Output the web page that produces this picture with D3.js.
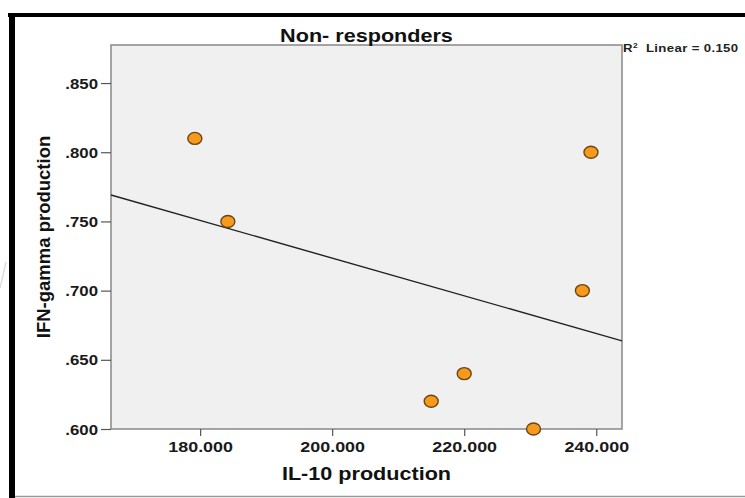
<!DOCTYPE html>
<html>
<head>
<meta charset="utf-8">
<script src="https://cdn.jsdelivr.net/npm/d3@7"></script>
<style>
  body { margin: 0; background: #fff; }
  svg { display: block; font-family: "Liberation Sans", Arial, sans-serif; }
</style>
</head>
<body>
<script>
// IL-10 vs IFN-gamma, non-responders
var il10 = [179.2, 184.2, 215.0, 220.0, 230.5, 237.9, 239.2];
var ifnGamma = [0.810, 0.750, 0.620, 0.640, 0.600, 0.700, 0.800];
var xTicks = [180, 200, 220, 240];
var yTicks = [0.600, 0.650, 0.700, 0.750, 0.800, 0.850];

var w = 745, h = 498;
var margin = {left: 111, right: 123, top: 45, bottom: 69};
var sx = 1.2; // text in the picture is a bit wider than the font

var svg = d3.select('body')
  .append('svg')
  .attr('width', w)
  .attr('height', h);

// outer frame
svg.append('rect').attr('x', 8).attr('y', 13).attr('width', w - 8).attr('height', 4).attr('fill', '#000');
svg.append('rect').attr('x', 9).attr('y', 13).attr('width', 6).attr('height', h - 13).attr('fill', '#000');
svg.append('line')
  .attr('x1', 15).attr('x2', w).attr('y1', 496.5).attr('y2', 496.5)
  .attr('stroke', '#999').attr('stroke-width', 1.5);
svg.append('line') // faint stroke left of the frame
  .attr('x1', 0).attr('y1', 288).attr('x2', 6).attr('y2', 262)
  .attr('stroke', '#ddd').attr('stroke-width', 1.5);

var xScale = d3.scaleLinear()
  .domain([166.5, 243.9])
  .range([margin.left, w - margin.right]);

var yScale = d3.scaleLinear()
  .domain([0.600, 0.8775])
  .range([h - margin.bottom, margin.top]);

// plot background
svg.append('rect')
  .attr('x', margin.left)
  .attr('y', margin.top)
  .attr('width', w - margin.right - margin.left)
  .attr('height', h - margin.bottom - margin.top)
  .attr('fill', '#f0f0f0')
  .attr('stroke', '#888')
  .attr('stroke-width', 1.5);

// axes
var xAxis = d3.axisBottom(xScale)
  .tickValues(xTicks)
  .tickSize(7)
  .tickFormat(d3.format('.3f'));

var gx = svg.append('g')
  .attr('transform', `translate(0, ${h - margin.bottom})`)
  .call(xAxis);
gx.select('.domain').remove();
gx.selectAll('.tick line').attr('stroke', '#555').attr('stroke-width', 1.2);
gx.selectAll('.tick text')
  .attr('y', null).attr('dy', null)
  .attr('transform', `translate(0, 23) scale(1.28, 1)`)
  .style('font-size', '14px')
  .style('font-weight', 'bold')
  .attr('fill', '#1a1a1a');

var yAxis = d3.axisLeft(yScale)
  .tickValues(yTicks)
  .tickSize(10)
  .tickFormat(d => d3.format('.3f')(d).replace(/^0/, ''));

var gy = svg.append('g')
  .attr('transform', `translate(${margin.left}, 0)`)
  .call(yAxis);
gy.select('.domain').remove();
gy.selectAll('.tick line').attr('stroke', '#555').attr('stroke-width', 1.2);
gy.selectAll('.tick text')
  .attr('x', null).attr('dy', null)
  .attr('transform', `translate(-13, 5) scale(${sx}, 1)`)
  .style('font-size', '14px')
  .style('font-weight', 'bold')
  .attr('fill', '#1a1a1a');

// linear fit
var mx = d3.mean(il10), my = d3.mean(ifnGamma);
var sxy = d3.sum(il10, (x, i) => (x - mx) * (ifnGamma[i] - my));
var sxx = d3.sum(il10, x => (x - mx) * (x - mx));
var syy = d3.sum(ifnGamma, y => (y - my) * (y - my));
var slope = sxy / sxx;
var icpt = my - slope * mx;
var r2 = (sxy * sxy) / (sxx * syy);

var xd = xScale.domain();
svg.append('line')
  .attr('x1', xScale(xd[0])).attr('y1', yScale(icpt + slope * xd[0]))
  .attr('x2', xScale(xd[1])).attr('y2', yScale(icpt + slope * xd[1]))
  .attr('stroke', '#222')
  .attr('stroke-width', 1.4);

// points
svg.selectAll('ellipse')
  .data(il10)
  .enter()
  .append('ellipse')
    .attr('cx', d => xScale(d))
    .attr('cy', (d, i) => yScale(ifnGamma[i]))
    .attr('rx', 7)
    .attr('ry', 6)
    .attr('fill', '#f7991c')
    .attr('stroke', '#6a4614')
    .attr('stroke-width', 1.4);

// title and labels
var cx = (margin.left + w - margin.right) / 2;

svg.append('text')
  .attr('text-anchor', 'middle')
  .attr('transform', `translate(${cx}, 42) scale(${sx}, 1)`)
  .style('font-size', '18px')
  .style('font-weight', 'bold')
  .attr('fill', '#111')
  .text('Non- responders');

svg.append('text')
  .attr('text-anchor', 'middle')
  .attr('transform', `translate(${cx}, 480) scale(${sx}, 1)`)
  .style('font-size', '18px')
  .style('font-weight', 'bold')
  .attr('fill', '#111')
  .text('IL-10 production');

svg.append('text')
  .attr('text-anchor', 'middle')
  .attr('transform', `translate(50, 237) rotate(-90)`)
  .style('font-size', '18.5px')
  .style('font-weight', 'bold')
  .attr('fill', '#111')
  .text('IFN-gamma production');

var r2Text = svg.append('text')
  .attr('transform', `translate(${w - margin.right + 1}, 52) scale(${sx}, 1)`)
  .style('font-size', '11px')
  .style('font-weight', 'bold')
  .style('letter-spacing', '0.3px')
  .attr('fill', '#222');
r2Text.append('tspan').text('R');
r2Text.append('tspan').attr('dy', -4).style('font-size', '7px').text('2');
r2Text.append('tspan').attr('dy', 4).text('\u00a0 Linear = ' + d3.format('.3f')(r2));
</script>
</body>
</html>
